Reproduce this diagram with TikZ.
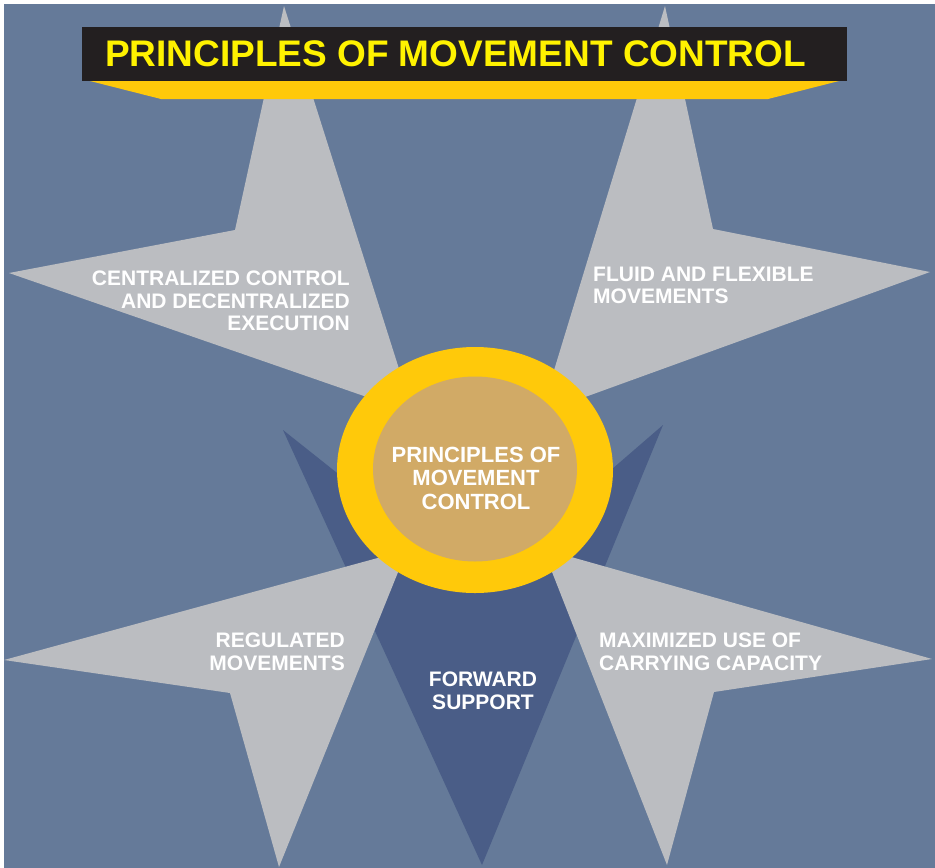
\documentclass[tikz,border=0pt]{standalone}
\usepackage{fontspec}
\setmainfont{Liberation Sans}
\usepackage{xcolor}
\usetikzlibrary{shapes.geometric, positioning}
\definecolor{slate}{RGB}{101,122,153}
\definecolor{pointgray}{RGB}{187,189,193}
\definecolor{deepblue}{RGB}{74,93,135}
\definecolor{ringyellow}{RGB}{255,201,10}
\definecolor{hubtan}{RGB}{209,170,102}
\definecolor{bannerblack}{RGB}{35,31,32}
\definecolor{titleyellow}{RGB}{255,242,0}
\tikzset{
  point/.style={fill=pointgray},
  tiptext/.style={text=white, inner sep=0pt, font=\bfseries\fontsize{21}{22.7}\selectfont},
}

\begin{document}
\begin{tikzpicture}[x=1pt, y=-1pt,
  disc/.style={ellipse, inner sep=0pt, draw=none},
  titletext/.style={text=titleyellow, inner sep=0pt, font=\bfseries\fontsize{37}{40}\selectfont}
]
  \useasboundingbox (0,0) rectangle (935,868);
  \fill[white] (0,0) rectangle (935,868);
  \fill[slate] (4,4) rectangle (935,868);
  % dark point behind the hub
  \fill[deepblue] (283,430) -- (478,585) -- (663,425) -- (482,865) -- cycle;
  % the four grey points
  \fill[point] (284,6) -- (235,230) -- (9,273) -- (413,413) -- cycle;
  \fill[point] (665,6) -- (713,229) -- (930,272) -- (541,413) -- cycle;
  \fill[point] (4,660) -- (230,693) -- (279,867) -- (407,550) -- cycle;
  \fill[point] (932,659) -- (714,692) -- (667,865) -- (543,549) -- cycle;
  % hub
  \node[disc, fill=ringyellow, minimum width=276pt, minimum height=246pt] (ring) at (475,470) {};
  \node[disc, fill=hubtan, minimum width=204pt, minimum height=185pt] (hub) at (475,469) {};
  \node[tiptext, align=center, font=\bfseries\fontsize{22}{23.5}\selectfont] (hubtext) at (476,478) {PRINCIPLES OF\\MOVEMENT\\CONTROL};
  % banner
  \fill[ringyellow] (86,80) -- (843,80) -- (768,99) -- (161,99) -- cycle;
  \node[fill=bannerblack, minimum width=765pt, minimum height=54pt, inner sep=0pt, anchor=north west] (banner) at (82,27) {};
  \node[titletext, anchor=base] (title) at (455.5,66) {PRINCIPLES OF MOVEMENT CONTROL};
  % labels
  \node[tiptext, align=right, anchor=east] (central) at (350,301) {CENTRALIZED CONTROL\\AND DECENTRALIZED\\EXECUTION};
  \node[tiptext, align=left, anchor=west] (fluid) at (593,285.5) {FLUID AND FLEXIBLE\\MOVEMENTS};
  \node[tiptext, align=right, anchor=east] (regulated) at (345,652) {REGULATED\\MOVEMENTS};
  \node[tiptext, align=left, anchor=west] (capacity) at (599,652) {MAXIMIZED USE OF\\CARRYING CAPACITY};
  \node[tiptext, align=center] (forward) at (483,691) {FORWARD\\SUPPORT};
\end{tikzpicture}
\end{document}
